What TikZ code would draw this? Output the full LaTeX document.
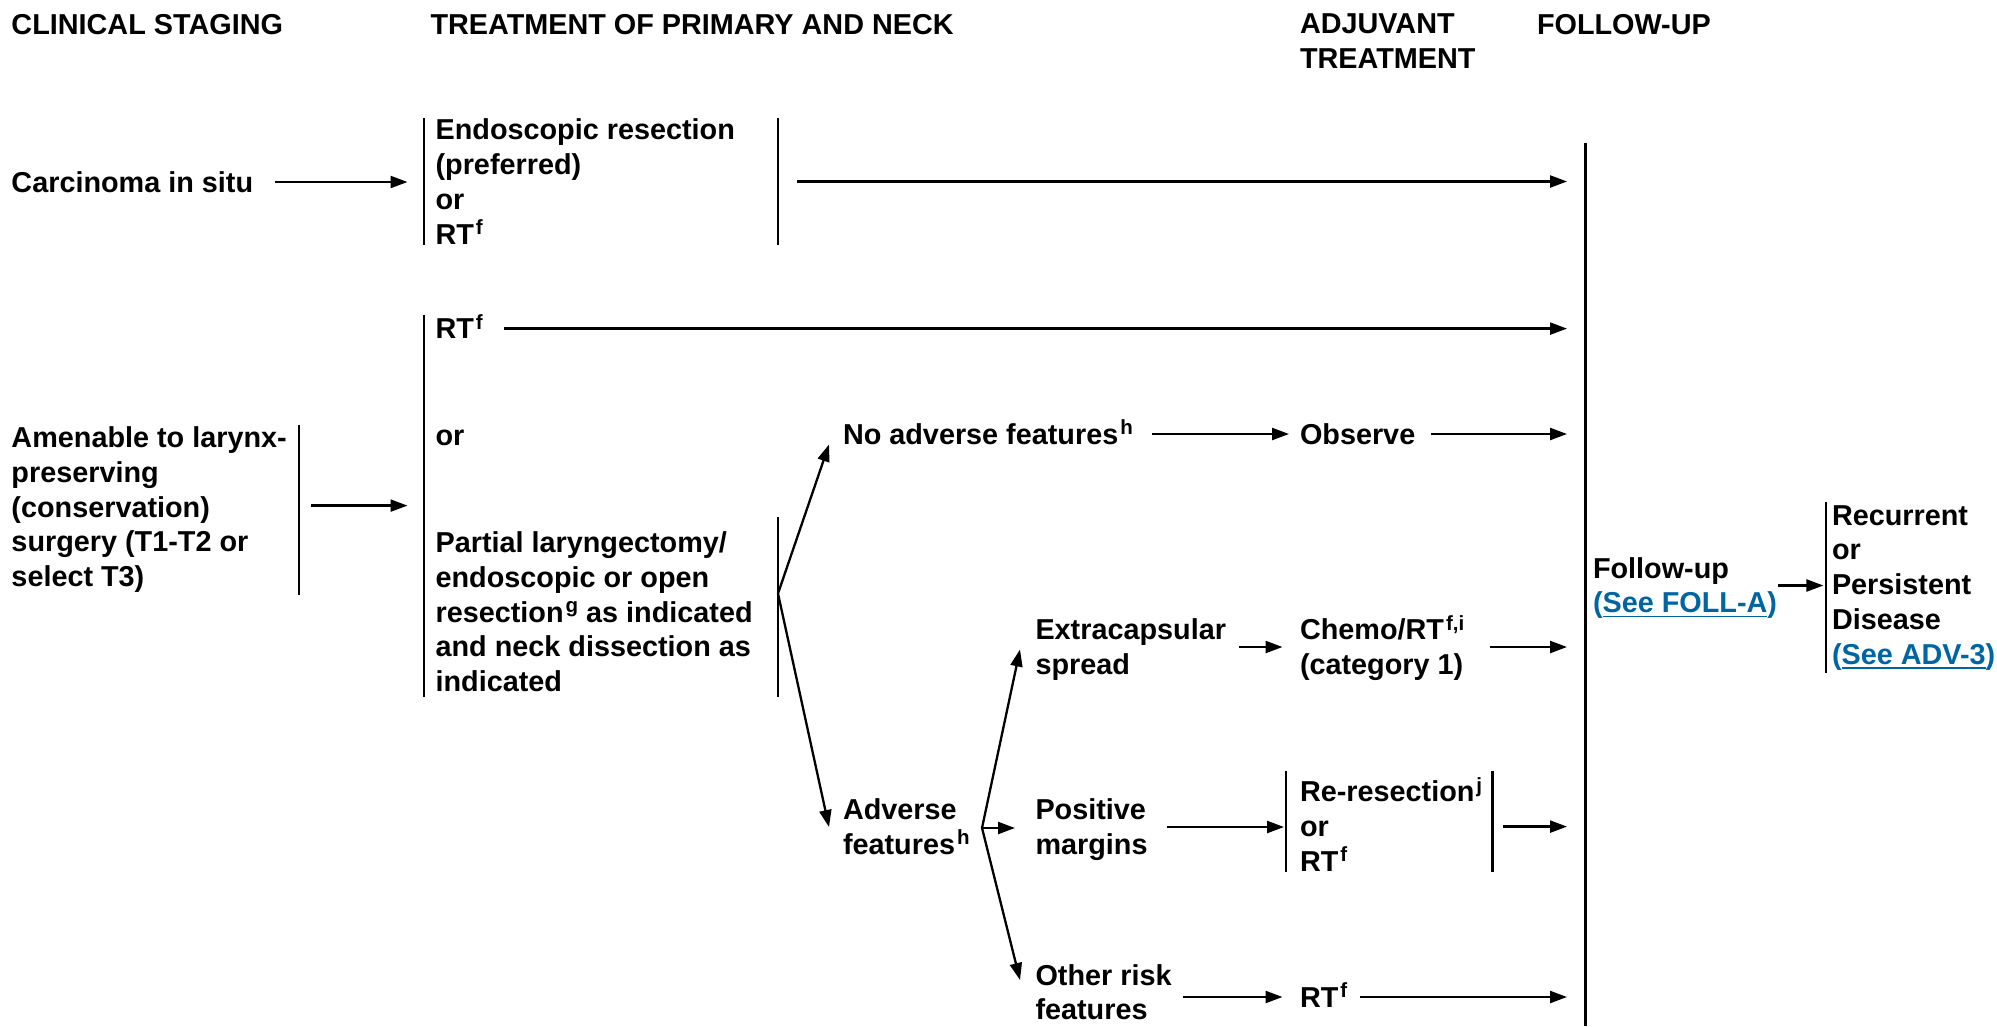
\documentclass[tikz,border=0pt]{standalone}
\usepackage{fontspec}
\setmainfont{Liberation Sans}
\usetikzlibrary{arrows.meta}
\definecolor{linkblue}{RGB}{0,101,163}
% fixed first-line height and last-line depth for multi-line labels
\newcommand{\upst}{\rule{0pt}{27pt}}
\newcommand{\dnst}{\rule[-7pt]{0pt}{7pt}}
% footnote marks
\newcommand{\sps}[1]{\hspace{2pt}\raisebox{9.5pt}{\fontsize{20.5}{20.5}\selectfont #1}}
% underlined cross-reference text
\newsavebox{\lnkbox}
\newcommand{\lnk}[1]{\sbox{\lnkbox}{#1}\rlap{\rule[-4.5pt]{\wd\lnkbox}{1.8pt}}\usebox{\lnkbox}}
\begin{document}
\begin{tikzpicture}[x=1pt, y=-1pt,
  lbl/.style={font=\bfseries\fontsize{28.8}{34.7}\selectfont, align=left,
              inner sep=0pt, outer sep=0pt, anchor=west},
  one/.style={lbl, text height=27pt, text depth=7pt},
  arr/.style={line width=2.3pt, -{Triangle[length=17pt,width=12pt]}},
  barline/.style={line width=2.3pt},
  slot/.style={inner sep=0pt, outer sep=0pt, minimum width=0pt}
]
\fill[white] (0,0) rectangle (1997,1026);
\useasboundingbox (0,0) rectangle (1997,1026);

% column headings
\node[one] (hcs) at (11.5,24) {CLINICAL STAGING};
\node[one] (htp) at (430.5,24) {TREATMENT OF PRIMARY AND NECK};
\node[lbl] (hadj) at (1300,41.3) {\upst ADJUVANT\\TREATMENT\dnst};
\node[one] (hfu) at (1537,24) {FOLLOW-UP};

% follow-up collecting bar
\node[slot, minimum height=883.4pt] (fubar) at (1585.6,584.3) {};
\draw[barline, line width=2.6pt] (fubar.north) -- (fubar.south);

% carcinoma in situ
\node[one] (cis) at (11.5,182) {Carcinoma in situ};
\node[slot, minimum width=354pt, minimum height=127pt] (cisbox) at (601,181.5) {};
\draw[barline] (cisbox.north west) -- (cisbox.south west)
               (cisbox.north east) -- (cisbox.south east);
\node[lbl] (cistx) at (435.6,182) {\upst Endoscopic resection\\(preferred)\\or\\RT\sps{f}\dnst};
\draw[arr, shorten <=22pt, shorten >=16.5pt] (cis.east) -- (cis.east -| cisbox.west);
\draw[arr, shorten <=19pt, shorten >=18.6pt] (cisbox.east) -- (cisbox.east -| fubar.west);

% larynx-preserving surgery
\node[lbl] (amen) at (11.5,507) {\upst Amenable to larynx-\\preserving\\(conservation)\\surgery (T1-T2 or\\select T3)\dnst};
\node[slot, minimum height=170pt] (amenbar) at (299,510) {};
\draw[barline] (amenbar.north) -- (amenbar.south);
\node[slot, minimum height=382.4pt] (optbar) at (424,505.8) {};
\draw[barline] (optbar.north) -- (optbar.south);
\coordinate (amenout) at ([yshift=4.4pt]amenbar.east);
\draw[arr, shorten <=12pt, shorten >=16.5pt] (amenout) -- (amenout -| optbar.west);

\node[one] (rt1) at (435.6,328.6) {RT\sps{f}};
\draw[arr, shorten <=21pt, shorten >=18.6pt] (rt1.east) -- (rt1.east -| fubar.west);
\node[one] (or1) at (435.6,435.6) {or};
\node[lbl] (part) at (435.6,612) {\upst Partial laryngectomy/\\endoscopic or open\\resection\sps{g} as indicated\\and neck dissection as\\indicated\dnst};
\node[slot, minimum height=180pt] (pbar) at (778,607) {};
\draw[barline] (pbar.north) -- (pbar.south);
\coordinate (br1) at (778,593.5);

% pathology after surgery
\node[one] (noadv) at (843,434) {No adverse features\sps{h}};
\node[one] (obs) at (1300,434) {Observe};
\node[lbl] (adv) at (843,827) {\upst Adverse\\features\sps{h}\dnst};
\draw[arr] (br1) -- ([xshift=-14pt,yshift=-10.5pt]noadv.west);
\draw[arr] (br1) -- ([xshift=-14pt]adv.west);
\draw[arr, shorten <=19pt, shorten >=11pt] (noadv.east) -- (noadv.east -| obs.west);
\draw[arr, shorten <=16pt, shorten >=18.6pt] (obs.east) -- (obs.east -| fubar.west);

% adverse features
\coordinate (br2) at (982,828);
\node[lbl] (ext) at (1035.5,647) {\upst Extracapsular\\spread\dnst};
\node[lbl] (chemo) at (1300,647) {\upst Chemo/RT\sps{f,i}\\(category 1)\dnst};
\node[lbl] (pos) at (1035.5,827) {\upst Positive\\margins\dnst};
\node[slot, minimum width=206.6pt, minimum height=101.9pt] (resbox) at (1389.3,821.5) {};
\draw[barline] (resbox.north west) -- (resbox.south west)
               (resbox.north east) -- (resbox.south east);
\node[lbl] (restx) at (1300,826.6) {\upst Re-resection\sps{j}\\or\\RT\sps{f}\dnst};
% last block sits on the lower edge: no extra depth below its last line
\node[lbl] (oth) at (1035.5,989) {\upst Other risk\\features};
\node[one] (rt3) at (1300,997) {RT\sps{f}};

\draw[arr] (br2) -- ([xshift=-15.5pt,yshift=-2.5pt]ext.west);
\draw[arr, shorten >=20.5pt] (br2) -- (br2 -| pos.west);
\draw[arr] (br2) -- ([xshift=-15.5pt,yshift=9pt]oth.west);

\draw[arr, shorten <=13pt, shorten >=17.5pt] (ext.east) -- (ext.east -| chemo.west);
\draw[arr, shorten <=26pt, shorten >=18.6pt] (chemo.east) -- (chemo.east -| fubar.west);
\draw[arr, shorten <=19pt, shorten >=2pt] (pos.east) -- (pos.east -| resbox.west);
\draw[arr, shorten <=10.4pt, shorten >=18.6pt] (restx.east -| resbox.east) -- (restx.east -| fubar.west);
\draw[arr, shorten <=11.5pt, shorten >=17.5pt] (oth.east |- rt3.west) -- (rt3.west);
\draw[arr, shorten <=13pt, shorten >=18.6pt] (rt3.east) -- (rt3.east -| fubar.west);

% follow-up and recurrence
\node[lbl] (fu) at (1593,585.5) {\upst Follow-up\\{\color{linkblue}(\lnk{See FOLL-A})}\dnst};
\node[slot, minimum height=170.5pt] (recbar) at (1826,587.3) {};
\draw[barline] (recbar.north) -- (recbar.south);
\node[lbl] (rec) at (1832,584.6) {\upst Recurrent\\or\\Persistent\\Disease\\{\color{linkblue}(\lnk{See ADV-3})}\dnst};
\draw[arr, shorten <=1pt, shorten >=2.6pt] (fu.east) -- (fu.east -| recbar.west);
\end{tikzpicture}
\end{document}
